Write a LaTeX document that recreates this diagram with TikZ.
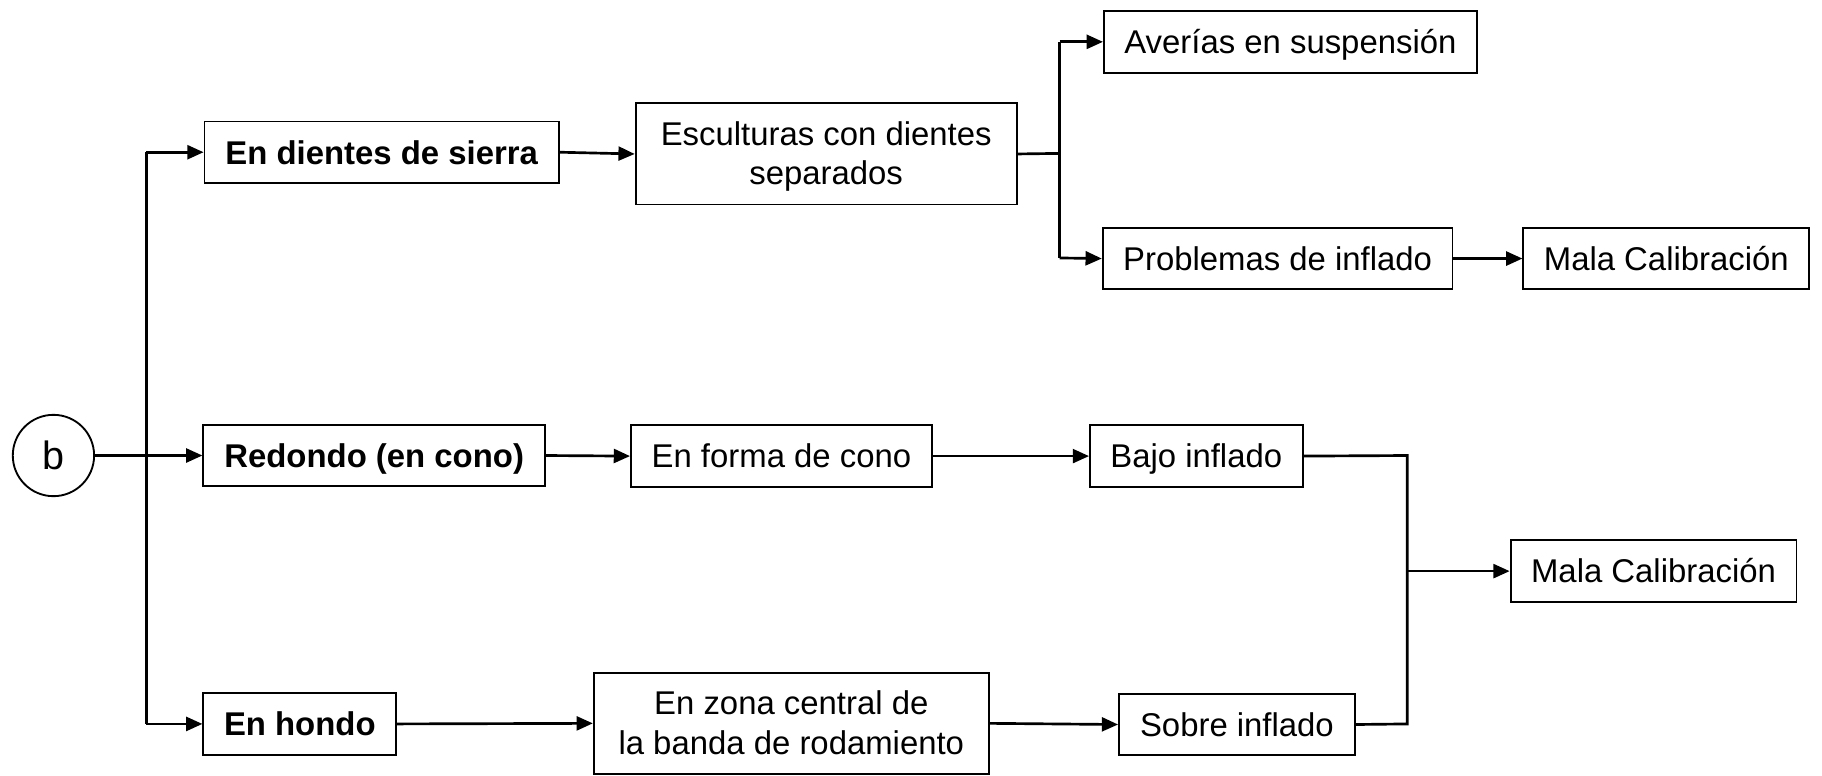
\documentclass[tikz,border=0pt]{standalone}
\usepackage{fontspec}
\setmainfont{Liberation Sans}
\usetikzlibrary{arrows.meta}
\begin{document}
\begin{tikzpicture}[x=1pt,y=-1pt,
  box/.style={draw=black,line width=1.6pt,rectangle,inner sep=0pt,align=center,
    font=\fontsize{28.3}{34}\selectfont,minimum height=53pt,text height=20.3pt,text depth=0pt},
  box2/.style={box,minimum height=87pt,text height=53pt,text depth=0pt},
  bbox/.style={box,font=\fontsize{28.3}{34}\selectfont\bfseries},
  conn/.style={line width=2.3pt,draw=black},
  arr/.style={conn,-{Triangle[length=14pt,width=12pt]}}]
\useasboundingbox (0,0) rectangle (1568,667);
% nodes
\node[circle,draw=black,line width=1.6pt,minimum size=70pt,inner sep=0pt,
  font=\fontsize{34}{40}\selectfont] (b) at (46,392) {b};
\node[bbox,minimum width=305pt] (s) at (328.5,131) {En dientes de sierra};
\node[bbox,minimum width=294pt] (r) at (322,392) {Redondo (en cono)};
\node[bbox,minimum width=166pt] (h) at (258,623) {En hondo};
\node[box2,minimum width=328pt] (e) at (711,132.5) {Esculturas con dientes\\separados};
\node[box,minimum width=321pt] (a) at (1110.5,36) {Averías en suspensión};
\node[box,minimum width=301pt] (p) at (1099.5,222.5) {Problemas de inflado};
\node[box,minimum width=246pt] (m1) at (1434,222.5) {Mala Calibración};
\node[box,minimum width=259pt] (c) at (672.5,392.5) {En forma de cono};
\node[box,minimum width=183pt] (bi) at (1029.5,392.5) {Bajo inflado};
\node[box2,minimum width=340pt] (z) at (681,622.5) {En zona central de\\la banda de rodamiento};
\node[box,minimum width=203pt] (so) at (1064.5,623.5) {Sobre inflado};
\node[box,minimum width=246pt] (m2) at (1423,491.5) {Mala Calibración};
% junction coordinates
\coordinate (t1) at (126,131);
\coordinate (t3) at (126,623);
\coordinate (j1) at (912,36);
\coordinate (j2) at (912,222);
\coordinate (jm) at (912,132);
\coordinate (k1) at (1211,392);
\coordinate (k2) at (1211,623);
\coordinate (km) at (1211,491.5);
% connectors
\draw[arr] (b.east) -- (r.west);
\draw[conn] (t1) -- (t3);
\draw[arr] (t1) -- (s.west);
\draw[arr] (t3) -- (h.west);
\draw[arr] (s.east) -- (e.west);
\draw[conn] (e.east) -- (jm);
\draw[conn] (j1) -- (j2);
\draw[arr] (j1) -- (a.west);
\draw[arr] (j2) -- (p.west);
\draw[arr] (p.east) -- (m1.west);
\draw[arr] (r.east) -- (c.west);
\draw[arr] (c.east) -- (bi.west);
\draw[arr] (h.east) -- (z.west);
\draw[arr] (z.east) -- (so.west);
\draw[conn] (bi.east) -- (k1) -- (k2) -- (so.east);
\draw[arr] (km) -- (m2.west);
\end{tikzpicture}
\end{document}
